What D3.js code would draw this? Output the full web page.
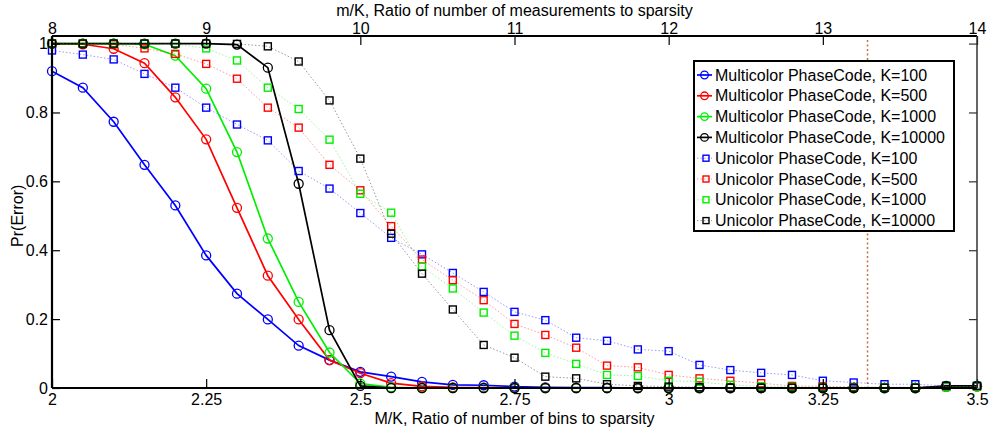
<!DOCTYPE html>
<html>
<head>
<meta charset="utf-8">
<script src="https://cdn.jsdelivr.net/npm/d3@7/dist/d3.min.js"></script>
<style>
body { margin: 0; background: #fff; }
svg { display: block; font-family: "Liberation Sans", Arial, Helvetica, sans-serif; }
.tick text { font-size: 16px; fill: #000; }
</style>
</head>
<body>
<svg id="chart" width="989" height="428"></svg>
<script>
// M/K values (bottom axis)
var binRatio = [2.00, 2.05, 2.10, 2.15, 2.20, 2.25, 2.30, 2.35, 2.40, 2.45, 2.50,
  2.55, 2.60, 2.65, 2.70, 2.75, 2.80, 2.85, 2.90, 2.95, 3.00,
  3.05, 3.10, 3.15, 3.20, 3.25, 3.30, 3.35, 3.40, 3.45, 3.50];

// Pr(Error), Multicolor PhaseCode
var multi100 = [0.920, 0.872, 0.773, 0.648, 0.530, 0.385, 0.274, 0.199, 0.123, 0.081, 0.047,
  0.033, 0.018, 0.009, 0.008, 0.004, 0.002, 0.001, 0.001, 0, 0,
  0, 0, 0, 0, 0, 0, 0, 0, 0.004, 0.005];
var multi500 = [1.000, 0.998, 0.985, 0.943, 0.844, 0.722, 0.523, 0.326, 0.199, 0.081, 0.043,
  0.014, 0.005, 0.002, 0.001, 0, 0, 0, 0, 0, 0,
  0, 0, 0, 0, 0, 0, 0, 0, 0.004, 0.005];
var multi1000 = [1.000, 1.000, 1.000, 0.998, 0.965, 0.869, 0.685, 0.434, 0.250, 0.103, 0.013,
  0.002, 0, 0, 0, 0, 0, 0, 0, 0, 0,
  0, 0, 0, 0, 0, 0, 0, 0, 0.003, 0.004];
var multi10000 = [1.000, 1.000, 1.000, 1.000, 1.000, 1.000, 0.997, 0.930, 0.593, 0.168, 0.006,
  0, 0, 0, 0, 0, 0, 0, 0, 0, 0,
  0, 0, 0, 0, 0, 0, 0, 0, 0.006, 0.006];

// Pr(Error), Unicolor PhaseCode
var uni100 = [0.980, 0.968, 0.954, 0.912, 0.872, 0.814, 0.765, 0.719, 0.630, 0.579, 0.508,
  0.436, 0.388, 0.334, 0.279, 0.221, 0.197, 0.146, 0.137, 0.112, 0.107,
  0.067, 0.052, 0.044, 0.038, 0.021, 0.016, 0.011, 0.011, 0.006, 0.006];
var uni500 = [1.000, 0.999, 0.998, 0.986, 0.970, 0.941, 0.898, 0.814, 0.756, 0.648, 0.574,
  0.470, 0.373, 0.313, 0.255, 0.186, 0.154, 0.117, 0.065, 0.060, 0.038,
  0.028, 0.021, 0.014, 0.006, 0.005, 0.003, 0.002, 0.002, 0.003, 0.004];
var uni1000 = [1.000, 1.000, 1.000, 1.000, 0.999, 0.986, 0.951, 0.872, 0.810, 0.721, 0.564,
  0.509, 0.352, 0.289, 0.219, 0.152, 0.102, 0.070, 0.038, 0.035, 0.021,
  0.018, 0.009, 0.005, 0.003, 0.002, 0.002, 0.002, 0.002, 0.003, 0.004];
var uni10000 = [1.000, 1.000, 1.000, 1.000, 1.000, 1.000, 0.999, 0.992, 0.948, 0.835, 0.666,
  0.448, 0.332, 0.228, 0.125, 0.088, 0.033, 0.028, 0.011, 0.006, 0.004,
  0.002, 0.001, 0.001, 0.001, 0.001, 0.001, 0.001, 0.001, 0.006, 0.006];

var bottomTicks = [2, 2.25, 2.5, 2.75, 3, 3.25, 3.5];
var topTicks = [8, 9, 10, 11, 12, 13, 14];
var yTicks = [0, 0.2, 0.4, 0.6, 0.8, 1];
var thresholdMK = 13.29; // dashed line, on m/K axis

var series = [
  { name: "Multicolor PhaseCode, K=100", values: multi100, color: "#0000ff", kind: "multi" },
  { name: "Multicolor PhaseCode, K=500", values: multi500, color: "#ff0000", kind: "multi" },
  { name: "Multicolor PhaseCode, K=1000", values: multi1000, color: "#00ee00", kind: "multi" },
  { name: "Multicolor PhaseCode, K=10000", values: multi10000, color: "#000000", kind: "multi" },
  { name: "Unicolor PhaseCode, K=100", values: uni100, color: "#0000ff", kind: "uni" },
  { name: "Unicolor PhaseCode, K=500", values: uni500, color: "#ff0000", kind: "uni" },
  { name: "Unicolor PhaseCode, K=1000", values: uni1000, color: "#00ee00", kind: "uni" },
  { name: "Unicolor PhaseCode, K=10000", values: uni10000, color: "#000000", kind: "uni" }
];

var svg = d3.select("#chart");
var margin = { top: 36, right: 12, bottom: 40, left: 52 };
var width = 989 - margin.left - margin.right;
var height = 428 - margin.top - margin.bottom;

var x = d3.scaleLinear().domain([2, 3.5]).range([0, width]);
var xTop = d3.scaleLinear().domain([8, 14]).range([0, width]);
var y = d3.scaleLinear().domain([0, 1.022]).range([height, 0]);

var g = svg.append("g").attr("transform", "translate(" + margin.left + "," + margin.top + ")");

// threshold line
g.append("line")
  .attr("x1", xTop(thresholdMK)).attr("x2", xTop(thresholdMK))
  .attr("y1", 4).attr("y2", height)
  .attr("stroke", "#c8703c").attr("stroke-width", 1.5)
  .attr("stroke-dasharray", "2,2.5");

var line = d3.line()
  .x(function(d) { return x(d[0]); })
  .y(function(d) { return y(d[1]); });

series.forEach(function(s) {
  var pts = binRatio.map(function(v, i) { return [v, s.values[i]]; });
  var sg = g.append("g");
  if (s.kind === "multi") {
    sg.append("path").datum(pts)
      .attr("d", line).attr("fill", "none")
      .attr("stroke", s.color).attr("stroke-width", 1.7);
    sg.selectAll("circle").data(pts).enter().append("circle")
      .attr("cx", function(d) { return x(d[0]); })
      .attr("cy", function(d) { return y(d[1]); })
      .attr("r", 4.5)
      .attr("fill", "none").attr("stroke", s.color).attr("stroke-width", 1.3);
  } else {
    sg.append("path").datum(pts)
      .attr("d", line).attr("fill", "none")
      .attr("stroke", s.color).attr("stroke-opacity", 0.4).attr("stroke-width", 1)
      .attr("stroke-dasharray", "1.5,2");
    sg.selectAll("rect").data(pts).enter().append("rect")
      .attr("x", function(d) { return x(d[0]) - 3.5; })
      .attr("y", function(d) { return y(d[1]) - 3.5; })
      .attr("width", 7).attr("height", 7)
      .attr("fill", "none").attr("stroke", s.color).attr("stroke-width", 1.4);
  }
});

// axes
var gx = g.append("g").attr("transform", "translate(0," + height + ")")
  .call(d3.axisBottom(x).tickValues(bottomTicks).tickSizeInner(-9).tickSizeOuter(0).tickPadding(6)
    .tickFormat(d3.format("~g")));
var gxt = g.append("g")
  .call(d3.axisTop(xTop).tickValues(topTicks).tickSizeInner(-9).tickSizeOuter(0).tickPadding(2)
    .tickFormat(d3.format("~g")));
var gy = g.append("g")
  .call(d3.axisLeft(y).tickValues(yTicks).tickSizeInner(-8).tickSizeOuter(0).tickPadding(4)
    .tickFormat(d3.format("~g")));
var gyr = g.append("g").attr("transform", "translate(" + width + ",0)")
  .call(d3.axisRight(y).tickValues(yTicks).tickSizeInner(-8).tickSizeOuter(0).tickFormat(""));

[gx, gxt, gy, gyr].forEach(function(a) {
  a.select(".domain").remove();
  a.selectAll(".tick line").attr("stroke", "#000").attr("stroke-width", 1.2);
});
gyr.selectAll(".tick line").attr("stroke", "#333");

// frame
g.append("line").attr("x1", 0).attr("x2", width).attr("y1", height).attr("y2", height)
  .attr("stroke", "#000").attr("stroke-width", 2.2);
g.append("line").attr("x1", 0).attr("x2", 0).attr("y1", 0).attr("y2", height)
  .attr("stroke", "#000").attr("stroke-width", 2.2);
g.append("line").attr("x1", 0).attr("x2", width).attr("y1", 0).attr("y2", 0)
  .attr("stroke", "#000").attr("stroke-width", 2);
g.append("line").attr("x1", width).attr("x2", width).attr("y1", 0).attr("y2", height)
  .attr("stroke", "#333").attr("stroke-width", 1.5);

// axis titles
svg.append("text")
  .attr("x", margin.left + width / 2).attr("y", 15.5)
  .attr("text-anchor", "middle").attr("font-size", 16)
  .text("m/K, Ratio of number of measurements to sparsity");
svg.append("text")
  .attr("x", margin.left + width / 2).attr("y", 423.5)
  .attr("text-anchor", "middle").attr("font-size", 16)
  .text("M/K, Ratio of number of bins to sparsity");
svg.append("text")
  .attr("transform", "translate(23," + (margin.top + y(0.5)) + ") rotate(-90)")
  .attr("text-anchor", "middle").attr("font-size", 16)
  .text("Pr(Error)");

// legend
var leg = svg.append("g").attr("transform", "translate(694,61)");
leg.append("rect").attr("width", 260).attr("height", 170)
  .attr("fill", "#fff").attr("stroke", "#000").attr("stroke-width", 2);
series.forEach(function(s, i) {
  var row = leg.append("g").attr("transform", "translate(0," + (14 + i * 20.8) + ")");
  if (s.kind === "multi") {
    row.append("line").attr("x1", 3).attr("x2", 18).attr("y1", 0).attr("y2", 0)
      .attr("stroke", s.color).attr("stroke-width", 1.7);
    row.append("circle").attr("cx", 10.5).attr("cy", 0).attr("r", 3.8)
      .attr("fill", "none").attr("stroke", s.color).attr("stroke-width", 1.3);
  } else {
    row.append("line").attr("x1", 3).attr("x2", 18).attr("y1", 0).attr("y2", 0)
      .attr("stroke", s.color).attr("stroke-opacity", 0.4).attr("stroke-dasharray", "1.5,2");
    row.append("rect").attr("x", 9).attr("y", -3).attr("width", 6).attr("height", 6)
      .attr("fill", "none").attr("stroke", s.color).attr("stroke-width", 1.4);
  }
  row.append("text").attr("x", 21).attr("y", 0).attr("dy", "0.35em")
    .attr("font-size", 16).text(s.name);
});
</script>
</body>
</html>
